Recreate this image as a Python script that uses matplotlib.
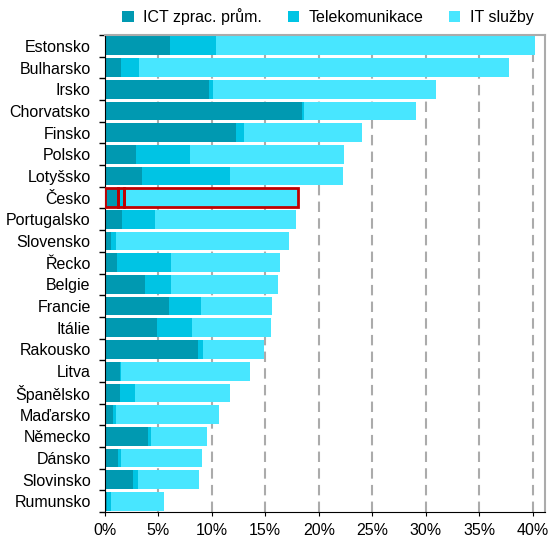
import matplotlib.pyplot as plt
from matplotlib.ticker import FixedLocator, PercentFormatter

plt.rcParams["font.family"] = ["Liberation Sans", "DejaVu Sans"]

zeme = ["Estonsko", "Bulharsko", "Irsko", "Chorvatsko", "Finsko", "Polsko",
        "Lotyšsko", "Česko", "Portugalsko", "Slovensko", "Řecko", "Belgie",
        "Francie", "Itálie", "Rakousko", "Litva", "Španělsko", "Maďarsko",
        "Německo", "Dánsko", "Slovinsko", "Rumunsko"]

ict_prum = [6.1, 1.55, 9.75, 18.4, 12.27, 2.94, 3.5, 1.3, 1.63, 0.6, 1.17, 3.8,
            6.05, 4.93, 8.75, 1.42, 1.42, 0.82, 4.06, 1.26, 2.66, 0.26]
telekom = [4.3, 1.65, 0.35, 0.2, 0.73, 5.04, 8.2, 0.5, 3.07, 0.45, 5.03, 2.4,
           2.95, 3.27, 0.44, 0.12, 1.43, 0.25, 0.28, 0.25, 0.44, 0.34]
it_sluzby = [29.8, 34.6, 20.8, 10.45, 11.0, 14.42, 10.55, 16.3, 13.16, 16.15,
             10.2, 10.0, 6.65, 7.33, 5.69, 12.0, 8.85, 9.58, 5.26, 7.59, 5.72, 4.98]

barvy = ["#0099B1", "#00C4E4", "#48E6FF"]
nazvy = ["ICT zprac. prům.", "Telekomunikace", "IT služby"]

fig = plt.figure(figsize=(5.51, 5.38), dpi=100)
ax = fig.add_axes([0.1897, 0.048, 0.799, 0.887])

y = list(range(len(zeme)))
levo = [0.0] * len(zeme)
for hodnoty, barva, nazev in zip([ict_prum, telekom, it_sluzby], barvy, nazvy):
    ax.barh(y, hodnoty, left=levo, height=0.86, color=barva, label=nazev,
            zorder=2)
    levo = [a + b for a, b in zip(levo, hodnoty)]

# zvýraznění Česka
i = zeme.index("Česko")
levo_cz = 0.0
for hodnoty in [ict_prum, telekom, it_sluzby]:
    ax.barh(i, hodnoty[i], left=levo_cz, height=0.86, facecolor="none",
            edgecolor="#C00000", linewidth=2, zorder=3)
    levo_cz += hodnoty[i]

ax.set_ylim(len(zeme) - 0.5, -0.5)
ax.set_xlim(0, 41.1)
ax.set_yticks(y)
ax.set_yticklabels(zeme, fontsize=11.5)
ax.yaxis.set_minor_locator(FixedLocator([k - 0.5 for k in range(len(zeme) + 1)]))
ax.tick_params(axis="y", which="major", length=0, pad=10)
ax.tick_params(axis="y", which="minor", length=4, width=1, color="black")

ax.set_xticks(range(0, 41, 5))
ax.xaxis.set_major_formatter(PercentFormatter(decimals=0))
ax.tick_params(axis="x", length=3, labelsize=11.5, pad=5)

ax.grid(axis="x", color="#ABABAB", linestyle=(0, (5, 3)), linewidth=1.5,
        zorder=1)
ax.set_axisbelow(True)

for s in ["top", "right"]:
    ax.spines[s].set_color("#ABABAB")
    ax.spines[s].set_linewidth(1.5)
for s in ["left", "bottom"]:
    ax.spines[s].set_color("black")

fig.legend(loc="upper center", bbox_to_anchor=(0.595, 1.012), ncol=3,
           frameon=False, fontsize=11.5, handlelength=0.7, handleheight=0.7,
           handletextpad=0.6, columnspacing=1.6)

fig.savefig("out.png", dpi=100)
